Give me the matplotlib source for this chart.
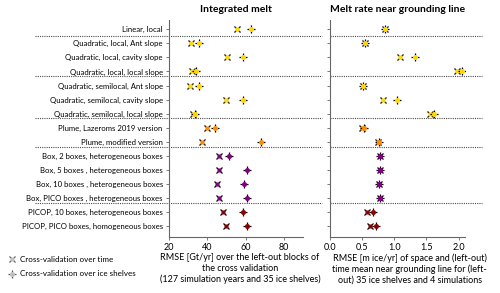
import matplotlib.pyplot as plt
from matplotlib.lines import Line2D

plt.rcParams['font.family'] = ['Lato', 'DejaVu Sans']

# rows, top to bottom
labels = ['Linear, local',
          'Quadratic, local, Ant slope',
          'Quadratic, local, cavity slope',
          'Quadratic, local, local slope',
          'Quadratic, semilocal, Ant slope',
          'Quadratic, semilocal, cavity slope',
          'Quadratic, semilocal, local slope',
          'Plume, Lazeroms 2019 version',
          'Plume, modified version',
          'Box, 2 boxes, heterogeneous boxes',
          'Box, 5 boxes , heterogeneous boxes',
          'Box, 10 boxes , heterogeneous boxes',
          'Box, PICO boxes , heterogeneous boxes',
          'PICOP, 10 boxes, heterogeneous boxes',
          'PICOP, PICO boxes, homogeneous boxes']
colors = ['gold'] * 7 + ['darkorange'] * 2 + ['purple'] * 4 + ['darkred'] * 2

# integrated melt RMSE [Gt/yr]
melt_time = [55.7, 31.3, 50.1, 31.8, 30.9, 49.6, 32.3, 39.6, 37.3,
             46.3, 46.0, 45.3, 46.3, 48.2, 49.8]
melt_shelves = [62.6, 35.8, 58.6, 34.0, 35.6, 58.6, 33.5, 43.9, 68.3,
                51.3, 60.7, 59.3, 60.9, 58.8, 60.9]

# melt near grounding line RMSE [m ice/yr]
gl_time = [0.85, 0.55, 1.09, 1.97, 0.52, 0.83, 1.55, 0.50, 0.74,
           0.78, 0.77, 0.76, 0.78, 0.57, 0.62]
gl_shelves = [0.85, 0.55, 1.32, 2.05, 0.52, 1.04, 1.61, 0.53, 0.76,
              0.78, 0.77, 0.76, 0.78, 0.67, 0.72]

separators = [0.5, 3.35, 6.3, 8.35, 12.35]


def draw_x(ax, x, y, c):
    ax.plot(x, y, ls='none', marker='x', ms=4.6, mec='black', mew=0.9)
    ax.plot(x, y, ls='none', marker='s', ms=2.9, mfc=c, mec='none')


def draw_plus(ax, x, y, c):
    ax.plot(x, y, ls='none', marker='+', ms=6.3, mec='black', mew=0.9)
    ax.plot(x, y, ls='none', marker='o', ms=3.6, mfc=c, mec='none')


fig = plt.figure(figsize=(5, 2.93), dpi=100)
ax1 = fig.add_axes([0.338, 0.191, 0.268, 0.741])
ax2 = fig.add_axes([0.660, 0.191, 0.270, 0.741])

rows = list(range(len(labels)))

for ax, a, b in [(ax1, melt_time, melt_shelves), (ax2, gl_time, gl_shelves)]:
    for i in rows:
        draw_x(ax, a[i], i, colors[i])
        draw_plus(ax, b[i], i, colors[i])
    ax.set_ylim(14.76, -0.66)
    ax.set_yticks(rows)
    for s in ['top', 'right']:
        ax.spines[s].set_visible(False)
    for s in ['left', 'bottom']:
        ax.spines[s].set_color('0.4')
        ax.spines[s].set_linewidth(0.8)
    ax.tick_params(labelsize=6.5, length=2.5, width=0.6, color='0.4', pad=2)
    ax.tick_params(axis='y', labelsize=5.6)

ax1.set_yticklabels(labels)
ax2.set_yticklabels([])

ax1.set_xlim(20, 90)
ax1.set_xticks([20, 40, 60, 80])
ax2.set_xlim(0, 2.1)
ax2.set_xticks([0.0, 0.5, 1.0, 1.5, 2.0])

for y in separators:
    ax1.plot([-1.0, 1.14], [y, y], transform=ax1.get_yaxis_transform(),
             color='0.3', lw=0.8, ls=(0, (1, 1)), clip_on=False)
    ax2.plot([0.0, 1.126], [y, y], transform=ax2.get_yaxis_transform(),
             color='0.3', lw=0.8, ls=(0, (1, 1)), clip_on=False)

ax1.set_title('Integrated melt', fontsize=7.5, fontweight='bold', pad=6)
ax2.set_title('Melt rate near grounding line', fontsize=7.5, fontweight='bold', pad=6)

ax1.set_xlabel('RMSE [Gt/yr] over the left-out blocks of\nthe cross validation\n'
               '(127 simulation years and 35 ice shelves)', fontsize=6.5,
               linespacing=1.2)
ax2.set_xlabel('RMSE [m ice/yr] of space and (left-out)\ntime mean near grounding line for (left-\n'
               'out) 35 ice shelves and 4 simulations', fontsize=6.5,
               linespacing=1.2)
ax1.xaxis.set_label_coords(0.53, -0.075, transform=ax1.transAxes)
ax2.xaxis.set_label_coords(0.59, -0.075, transform=ax2.transAxes)
ax1.xaxis.label.set_va('top')
ax2.xaxis.label.set_va('top')

h_time = (Line2D([], [], ls='none', marker='x', ms=4.6, mec='0.35', mew=0.9),
          Line2D([], [], ls='none', marker='s', ms=2.9, mfc='0.75', mec='none'))
h_shelf = (Line2D([], [], ls='none', marker='+', ms=6.3, mec='0.35', mew=0.9),
           Line2D([], [], ls='none', marker='o', ms=3.6, mfc='0.75', mec='none'))
fig.legend([h_time, h_shelf], ['Cross-validation over time', 'Cross-validation over ice shelves'],
           loc='upper left', bbox_to_anchor=(0.005, 0.145), frameon=False,
           fontsize=5.8, handlelength=1.0, handletextpad=0.5, labelspacing=0.9,
           borderaxespad=0.3)

fig.savefig('out.png', dpi=100)
